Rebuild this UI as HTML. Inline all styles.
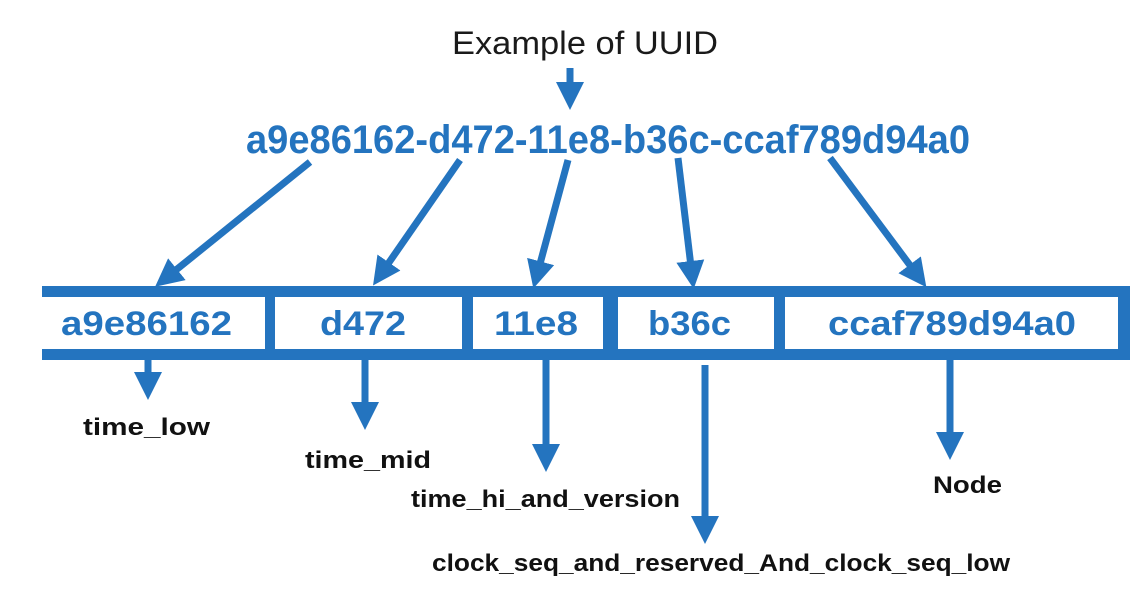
<!DOCTYPE html>
<html><head><meta charset="utf-8"><style>
html,body{margin:0;padding:0;background:#fff;}
svg{display:block;}
</style></head><body>
<svg width="1136" height="597" viewBox="0 0 1136 597" xmlns="http://www.w3.org/2000/svg">
<defs>
<marker id="a" markerWidth="4" markerHeight="4" refX="2" refY="2" orient="auto" markerUnits="strokeWidth">
<path d="M0,0 L4,2 L0,4 z" fill="#2474bf"/></marker>
</defs>
<g font-family="Liberation Sans, sans-serif">
<text x="452" y="54" font-size="32" fill="#1a1a1a" textLength="266" lengthAdjust="spacingAndGlyphs">Example of UUID</text>
<text x="246" y="153" font-size="40" font-weight="bold" fill="#2474bf" textLength="724" lengthAdjust="spacingAndGlyphs">a9e86162-d472-11e8-b36c-ccaf789d94a0</text>
</g>
<g stroke="#2474bf" stroke-width="7" fill="none" marker-end="url(#a)">
<line x1="570" y1="68" x2="570" y2="96"/>
<line x1="310" y1="162" x2="166" y2="278"/>
<line x1="460" y1="160" x2="381" y2="274"/>
<line x1="568" y1="160" x2="537" y2="275"/>
<line x1="678" y1="158" x2="692" y2="275"/>
<line x1="830" y1="158" x2="918" y2="276"/>
<line x1="148" y1="360" x2="148" y2="386"/>
<line x1="365" y1="360" x2="365" y2="416"/>
<line x1="546" y1="360" x2="546" y2="458"/>
<line x1="705" y1="365" x2="705" y2="530"/>
<line x1="950" y1="360" x2="950" y2="446"/>
</g>
<g fill="#2474bf">
<rect x="42" y="286" width="1088" height="11"/>
<rect x="42" y="349" width="1088" height="11"/>
<rect x="265" y="286" width="10" height="74"/>
<rect x="462" y="286" width="11" height="74"/>
<rect x="603" y="286" width="15" height="74"/>
<rect x="774" y="286" width="11" height="74"/>
<rect x="1118" y="286" width="12" height="74"/>
</g>
<g font-family="Liberation Sans, sans-serif" font-weight="bold" font-size="34" fill="#2474bf">
<text x="61" y="335" textLength="171" lengthAdjust="spacingAndGlyphs">a9e86162</text>
<text x="320" y="335" textLength="86" lengthAdjust="spacingAndGlyphs">d472</text>
<text x="494" y="335" textLength="84" lengthAdjust="spacingAndGlyphs">11e8</text>
<text x="648" y="335" textLength="83" lengthAdjust="spacingAndGlyphs">b36c</text>
<text x="828" y="335" textLength="248" lengthAdjust="spacingAndGlyphs">ccaf789d94a0</text>
</g>
<g font-family="Liberation Sans, sans-serif" font-weight="bold" font-size="24" fill="#111">
<text x="83" y="435" textLength="127" lengthAdjust="spacingAndGlyphs">time_low</text>
<text x="305" y="468" textLength="126" lengthAdjust="spacingAndGlyphs">time_mid</text>
<text x="411" y="507" textLength="269" lengthAdjust="spacingAndGlyphs">time_hi_and_version</text>
<text x="432" y="571" textLength="578" lengthAdjust="spacingAndGlyphs">clock_seq_and_reserved_And_clock_seq_low</text>
<text x="933" y="493" textLength="69" lengthAdjust="spacingAndGlyphs">Node</text>
</g>
</svg>
</body></html>
